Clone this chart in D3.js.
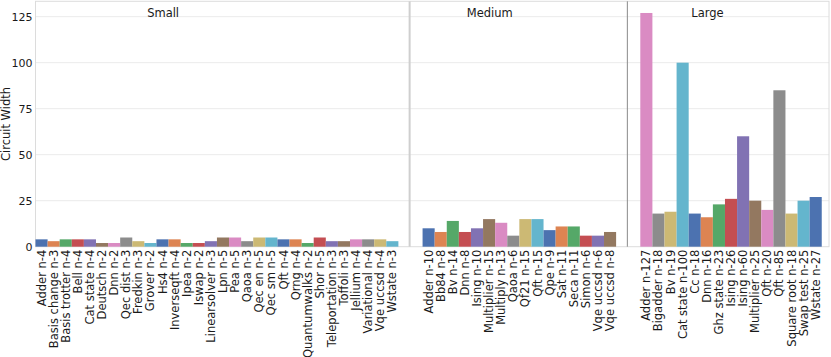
<!DOCTYPE html>
<html>
<head>
<meta charset="utf-8">
<script src="https://cdn.jsdelivr.net/npm/d3@7"></script>
<style>
  body { margin: 0; background: #fff; }
  svg { display: block; font-family: "DejaVu Sans", sans-serif; }
</style>
</head>
<body>
<svg></svg>
<script>
let groupNames = ["Small", "Medium", "Large"]

let smallNames = ["Adder n-4", "Basis change n-3", "Basis trotter n-4", "Bell n-4", "Cat state n-4",
  "Deutsch n-2", "Dnn n-2", "Qec dist n-3", "Fredkin n-3", "Grover n-2", "Hs4 n-4", "Inverseqft n-4",
  "Ipea n-2", "Iswap n-2", "Linearsolver n-3", "Lpn n-5", "Pea n-5", "Qaoa n-3", "Qec en n-5",
  "Qec sm n-5", "Qft n-4", "Qrng n-4", "Quantumwalks n-2", "Shor n-5", "Teleportation n-3",
  "Toffoli n-3", "Jellium n-4", "Variational n-4", "Vqe uccsd n-4", "Wstate n-3"]
let smallValues = [4, 3, 4, 4, 4, 2, 2, 5, 3, 2, 4, 4, 2, 2, 3, 5, 5, 3, 5, 5, 4, 4, 2, 5, 3, 3, 4, 4, 4, 3]

let mediumNames = ["Adder n-10", "Bb84 n-8", "Bv n-14", "Dnn n-8", "Ising n-10", "Multiplier n-15",
  "Multiply n-13", "Qaoa n-6", "Qf21 n-15", "Qft n-15", "Qpe n-9", "Sat n-11", "Seca n-11",
  "Simon n-6", "Vqe uccsd n-6", "Vqe uccsd n-8"]
let mediumValues = [10, 8, 14, 8, 10, 15, 13, 6, 15, 15, 9, 11, 11, 6, 6, 8]

let largeNames = ["Adder n-127", "Bigadder n-18", "Bv n-19", "Cat state n-100", "Cc n-18", "Dnn n-16",
  "Ghz state n-23", "Ising n-26", "Ising n-60", "Multiplier n-25", "Qft n-20", "Qft n-85",
  "Square root n-18", "Swap test n-25", "Wstate n-27"]
let largeValues = [127, 18, 19, 100, 18, 16, 23, 26, 60, 25, 20, 85, 18, 25, 27]

let yTicks = [0, 25, 50, 75, 100, 125]

let palette = ["#4C72B0", "#DD8452", "#55A868", "#C44E52", "#8172B3",
               "#937860", "#DA8BC3", "#8C8C8C", "#CCB974", "#64B5CD"]

let width = 831
let height = 357
let plotLeft = 35.5
let plotRight = 829
let plotTop = 1.3
let plotBottom = 246.7
let gap = 2

let svg = d3.select("svg").attr("width", width).attr("height", height)

// lay the groups out one after another, with a gap between them
let groups = [
  {name: groupNames[0], names: smallNames, values: smallValues},
  {name: groupNames[1], names: mediumNames, values: mediumValues},
  {name: groupNames[2], names: largeNames, values: largeValues}
]
let bars = []
let pos = 0
let count = 0
groups.forEach(g => {
  g.start = pos
  g.names.forEach((n, i) => {
    bars.push({name: n, value: g.values[i], x: pos + i, color: palette[count % 10]})
    count++
  })
  pos += g.names.length
  g.end = pos
  pos += gap
})
let total = groups[2].end + 0.6

let xScale = d3.scaleLinear().domain([0, total]).range([plotLeft, plotRight])
let yScale = d3.scaleLinear().domain([0, 127 * 1.05]).range([plotBottom, plotTop])
let bw = xScale(1) - xScale(0)

// grid
svg.append("g").selectAll("line")
  .data(yTicks.filter(d => d > 0))
  .enter().append("line")
  .attr("x1", plotLeft).attr("x2", plotRight)
  .attr("y1", d => yScale(d)).attr("y2", d => yScale(d))
  .attr("stroke", "#ebebeb").attr("stroke-width", 1)

// spines
svg.append("rect")
  .attr("x", plotLeft).attr("y", plotTop)
  .attr("width", plotRight - plotLeft).attr("height", plotBottom - plotTop)
  .attr("fill", "none").attr("stroke", "#dcdcdc").attr("stroke-width", 1)

// bars
svg.append("g").selectAll("rect")
  .data(bars)
  .enter().append("rect")
  .attr("x", d => xScale(d.x))
  .attr("y", d => yScale(d.value))
  .attr("width", bw)
  .attr("height", d => yScale(0) - yScale(d.value))
  .attr("fill", d => d.color)

// group separators
let sep1 = xScale(groups[0].end + 0.93)
let sep2 = xScale(groups[1].end + 0.93)
svg.append("line").attr("x1", sep1).attr("x2", sep1).attr("y1", plotTop).attr("y2", plotBottom)
  .attr("stroke", "#cfcfcf").attr("stroke-width", 2)
svg.append("line").attr("x1", sep2).attr("x2", sep2).attr("y1", plotTop).attr("y2", plotBottom)
  .attr("stroke", "#8a8a8a").attr("stroke-width", 1)

// group titles
svg.append("g").selectAll("text")
  .data(groups)
  .enter().append("text")
  .attr("x", d => xScale(d.start + Math.floor(d.names.length / 3) + 0.55))
  .attr("y", 17)
  .attr("text-anchor", "middle")
  .attr("font-size", 11.5)
  .attr("fill", "#1a1a1a")
  .text(d => d.name)

// y axis
let yAxis = d3.axisLeft(yScale).tickValues(yTicks).tickSize(0).tickPadding(3)
let yg = svg.append("g").attr("transform", "translate(" + plotLeft + ",0)").call(yAxis)
yg.select(".domain").remove()
yg.selectAll("text").attr("font-size", 11).attr("fill", "#1a1a1a").attr("font-family", "DejaVu Sans")

svg.append("text")
  .attr("transform", "translate(10," + ((plotTop + plotBottom) / 2) + ") rotate(-90)")
  .attr("text-anchor", "middle")
  .attr("font-size", 11.5)
  .attr("fill", "#1a1a1a")
  .text("Circuit Width")

// x tick labels
svg.append("g").selectAll("text")
  .data(bars)
  .enter().append("text")
  .attr("transform", d => "translate(" + (xScale(d.x) + bw / 2) + "," + (plotBottom + 3) + ") rotate(-90)")
  .attr("text-anchor", "end")
  .attr("dy", "0.35em")
  .attr("font-size", 11.5)
  .attr("fill", "#1a1a1a")
  .text(d => d.name)
</script>
</body>
</html>
